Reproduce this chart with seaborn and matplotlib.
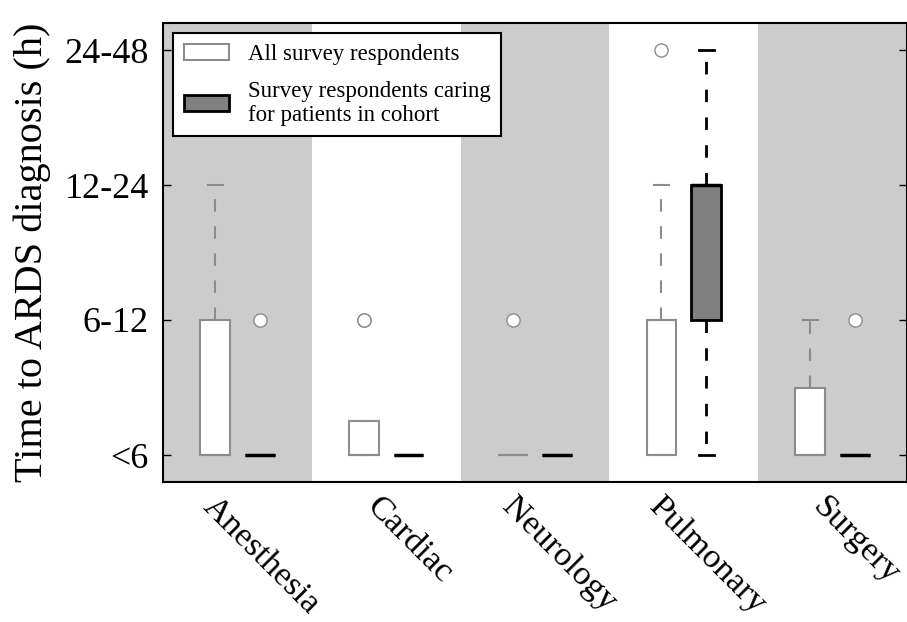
import numpy as np
import pandas as pd
import matplotlib
matplotlib.use("Agg")
import matplotlib.pyplot as plt
from matplotlib.patches import Patch
import seaborn as sns

# ---------------- data ----------------
categories = ["Anesthesia", "Cardiac", "Neurology", "Pulmonary", "Surgery"]
groups = ["All survey respondents",
          "Survey respondents caring\nfor patients in cohort"]
tick_labels = ["<6", "6-12", "12-24", "24-48"]

# responses coded as index into tick_labels
all_anesthesia = [0, 0, 0, 0, 1, 1, 2]
all_cardiac = [0, 0, 0, 0, 0, 0, 1, 1]
all_neurology = [0, 0, 0, 0, 0, 1]
all_pulmonary = [0, 0, 0, 0, 1, 1, 1, 2, 3]
all_surgery = [0, 0, 0, 0, 0, 1, 1]

cohort_anesthesia = [0, 0, 0, 0, 0, 1]
cohort_cardiac = [0, 0, 0, 0]
cohort_neurology = [0, 0, 0, 0]
cohort_pulmonary = [0, 1, 1, 2, 2, 2, 3]
cohort_surgery = [0, 0, 0, 0, 0, 1]

all_values = [all_anesthesia, all_cardiac, all_neurology, all_pulmonary, all_surgery]
cohort_values = [cohort_anesthesia, cohort_cardiac, cohort_neurology,
                 cohort_pulmonary, cohort_surgery]

rows = []
for cat, vals in zip(categories, all_values):
    rows += [(cat, groups[0], v) for v in vals]
for cat, vals in zip(categories, cohort_values):
    rows += [(cat, groups[1], v) for v in vals]
df = pd.DataFrame(rows, columns=["specialty", "group", "response"])

# ---------------- style ----------------
plt.rcParams["font.family"] = ["Liberation Serif", "DejaVu Serif"]

fig = plt.figure(figsize=(9.07, 6.22), dpi=100)
ax = fig.add_axes([163 / 907, (622 - 482) / 622, (907 - 163) / 907, (482 - 23) / 622])

LIGHT_EDGE = "#8c8c8c"
DARK_FACE = "#808080"
BAND = "#cccccc"

for i in range(len(categories)):
    if i % 2 == 0:
        ax.axvspan(i - 0.5, i + 0.5, color=BAND, zorder=0, lw=0)

palette = {groups[0]: "white", groups[1]: DARK_FACE}
common = dict(x="specialty", y="response", hue="group", order=categories,
              hue_order=groups, dodge=True, width=0.6, gap=0.33, whis=1.5,
              palette=palette, saturation=1, ax=ax, legend=False)

flier = dict(marker="o", markerfacecolor="white", markeredgecolor=LIGHT_EDGE,
             markersize=9.5, markeredgewidth=1.0)

sns.boxplot(data=df[df.group == groups[0]], linecolor=LIGHT_EDGE, linewidth=1.5,
            whiskerprops=dict(linestyle=(0, (6, 7))),
            flierprops=flier, **common)
sns.boxplot(data=df[df.group == groups[1]], linecolor="black", linewidth=2.0,
            whiskerprops=dict(linestyle=(0, (4.5, 5.5))),
            medianprops=dict(linewidth=2.5),
            flierprops=flier, **common)

ax.set_xlim(-0.5, len(categories) - 0.5)
ax.set_ylim(-0.2, 3.2)
ax.set_yticks(range(len(tick_labels)))
ax.set_yticklabels(tick_labels)
# labels sit slightly right of the category centres (ticks themselves hidden)
ax.set_xticks(np.arange(len(categories)) + 0.16)
ax.set_xticklabels(categories, rotation=-45, ha="center")

ax.set_xlabel("")
ax.set_ylabel("Time to ARDS diagnosis (h)", fontsize=29, labelpad=10)

ax.tick_params(axis="y", direction="in", length=6, width=1, left=True, right=True,
               labelsize=26, pad=10)
ax.tick_params(axis="x", length=0, labelsize=24.8, pad=7)

for s in ax.spines.values():
    s.set_visible(True)
    s.set_color("black")
    s.set_linewidth(1.5)

handles = [Patch(facecolor="white", edgecolor=LIGHT_EDGE, linewidth=1.5),
           Patch(facecolor=DARK_FACE, edgecolor="black", linewidth=2.0)]
leg = ax.legend(handles, groups, loc="upper left", fontsize=16.5, frameon=True,
                fancybox=False, framealpha=1, edgecolor="black",
                borderaxespad=0.45, borderpad=0.45, handlelength=2.0,
                handletextpad=0.8, labelspacing=0.7)
leg.get_frame().set_linewidth(1.5)
leg.set_zorder(10)

fig.savefig("out.png", dpi=100)
